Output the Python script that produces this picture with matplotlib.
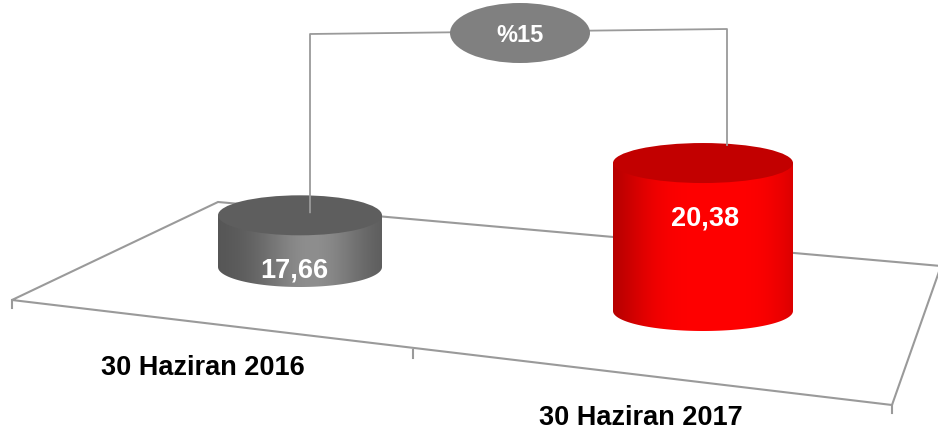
import numpy as np
import matplotlib
matplotlib.use("Agg")
import matplotlib.pyplot as plt
from matplotlib.patches import Polygon, Ellipse
from matplotlib.colors import to_rgb

# ------------------------------------------------------------
# data
# ------------------------------------------------------------
categories = ["30 Haziran 2016", "30 Haziran 2017"]
values = [17.66, 20.38]
value_labels = ["17,66", "20,38"]
change_label = "%15"

# ------------------------------------------------------------
# layout (pixel space, y grows downward)
# ------------------------------------------------------------
W, H = 938, 438
BASE_VALUE = 16.2      # value at the floor
PX_PER_UNIT = 35.4     # vertical pixels per unit of value

cyl_cx = [300, 703]
cyl_bottom = [267, 311]
cyl_rx = [82, 90]
cyl_ry = [20, 20]
body_dark = ["#545454", "#a80000"]
body_light = ["#8e8e8e", "#ff0000"]
shade_width = [0.65, 1.0]
top_color = ["#5e5e5e", "#c20000"]
label_pos = [(294, 271), (705, 218)]

cat_xy = [(203, 368), (641, 418)]
FONT = "Liberation Sans"
LINE = "#9a9a9a"

fig = plt.figure(figsize=(W / 100, H / 100), dpi=100)
ax = fig.add_axes([0, 0, 1, 1])
ax.set_xlim(0, W)
ax.set_ylim(H, 0)
ax.axis("off")

# --- floor ---
floor = [(12, 300), (892, 405), (941, 266), (218, 202)]
ax.add_patch(Polygon(floor, closed=True, fill=False, edgecolor=LINE, lw=1.5, zorder=1))
for (tx, ty) in [(12, 300), (413, 350), (892, 405)]:
    ax.plot([tx, tx], [ty, ty + 8], color=LINE, lw=1.5, zorder=1)


def shade_row(dark, light, width, n=200, peak=0.15):
    s = np.linspace(-1, 1, n)
    w = np.exp(-((s - peak) / width) ** 4 if width > 0.8 else -((s - peak) / width) ** 2)
    d, l = np.array(to_rgb(dark)), np.array(to_rgb(light))
    return (d[None, :] * (1 - w[:, None]) + l[None, :] * w[:, None])[None, :, :]


def cylinder(cx, ybot, rx, ry, height, dark, light, width, top):
    ytop = ybot - height
    t = np.linspace(np.pi, 0, 80)
    arc = np.column_stack([cx + rx * np.cos(t), ybot + ry * np.sin(t)])
    pts = np.vstack([[cx - rx, ytop], arc, [cx + rx, ytop]])
    body = Polygon(pts, closed=True, facecolor="none", edgecolor="none", zorder=2)
    ax.add_patch(body)
    im = ax.imshow(shade_row(dark, light, width), extent=(cx - rx, cx + rx, ybot + ry, ytop),
                   aspect="auto", zorder=2, interpolation="bilinear")
    im.set_clip_path(body)
    ax.add_patch(Ellipse((cx, ytop), 2 * rx, 2 * ry, facecolor=top, edgecolor="none", zorder=3))
    return ytop


tops = []
for i, v in enumerate(values):
    h = (v - BASE_VALUE) * PX_PER_UNIT
    ytop = cylinder(cyl_cx[i], cyl_bottom[i], cyl_rx[i], cyl_ry[i], h,
                    body_dark[i], body_light[i], shade_width[i], top_color[i])
    tops.append(ytop)
    ax.text(label_pos[i][0], label_pos[i][1], value_labels[i],
            color="white", fontsize=19.5, fontweight="bold", family=FONT,
            ha="center", va="center", zorder=5)
    ax.text(cat_xy[i][0], cat_xy[i][1], categories[i], color="black", fontsize=19.5,
            fontweight="bold", family=FONT, ha="center", va="center", zorder=5)

# --- change connector ---
lx, rx_ = 310, 727
ax.plot([lx, lx, rx_, rx_], [tops[0] - 3, 34, 29, tops[1] - 18], color=LINE, lw=1.3, zorder=4)
ax.add_patch(Ellipse((520, 33), 140, 60, facecolor="#808080", edgecolor="none", zorder=5))
ax.text(520, 35, change_label, color="white", fontsize=17, fontweight="bold",
        family=FONT, ha="center", va="center", zorder=6)

fig.savefig("out.png", dpi=100)
